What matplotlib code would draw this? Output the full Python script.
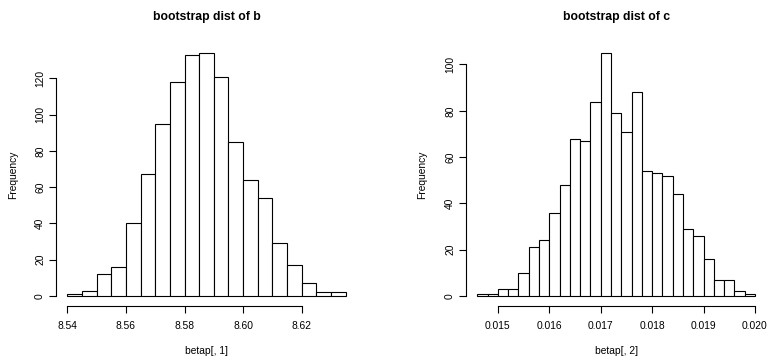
import numpy as np
import matplotlib
matplotlib.use("Agg")
import matplotlib.pyplot as plt

plt.rcParams['font.family'] = ['Liberation Sans', 'DejaVu Sans']

# bootstrap histogram of b
b_bin_start = 8.540
b_bin_width = 0.005
b_counts = [1, 3, 12, 16, 40, 67, 95, 118, 133, 134, 121, 85, 64, 54, 29, 17, 7, 2, 2]
b_xticks = [8.54, 8.56, 8.58, 8.60, 8.62]
b_yticks = [0, 20, 40, 60, 80, 100, 120]

# bootstrap histogram of c
c_bin_start = 0.0146
c_bin_width = 0.0002
c_counts = [1, 1, 3, 3, 10, 21, 24, 36, 48, 68, 67, 84, 105, 79, 71, 88,
            54, 53, 52, 44, 29, 26, 16, 7, 7, 2, 1]
c_xticks = [0.015, 0.016, 0.017, 0.018, 0.019, 0.020]
c_yticks = [0, 20, 40, 60, 80, 100]

W, H = 769, 356
fig = plt.figure(figsize=(W / 100, H / 100), dpi=100)
fs = 7.4


def r_hist(ax, start, width, counts, xticks, yticks, xfmt):
    counts = np.array(counts)
    lefts = start + width * np.arange(len(counts))
    ax.bar(lefts, counts, width=width, align='edge', facecolor='white',
           edgecolor='black', linewidth=0.8)
    lo, hi = lefts[0], lefts[-1] + width
    dx = (hi - lo) * 0.04
    ax.set_xlim(lo - dx, hi + dx)
    ymax = counts.max()
    ax.set_ylim(-ymax * 0.04, ymax * 1.04)
    for s in ['top', 'right']:
        ax.spines[s].set_visible(False)
    ax.spines['left'].set_bounds(yticks[0], yticks[-1])
    ax.spines['bottom'].set_bounds(xticks[0], xticks[-1])
    for s in ['left', 'bottom']:
        ax.spines[s].set_linewidth(0.8)
    ax.set_xticks(xticks)
    ax.set_xticklabels([xfmt % v for v in xticks])
    ax.set_yticks(yticks)
    ax.set_yticklabels([str(v) for v in yticks], rotation=90, va='center')
    ax.tick_params(length=5, width=0.8, labelsize=fs)
    ax.tick_params(axis='x', pad=6)
    ax.tick_params(axis='y', pad=3)


ax1 = fig.add_axes([56.2 / W, (H - 305.7) / H, 300.6 / W, 262.5 / H])
r_hist(ax1, b_bin_start, b_bin_width, b_counts, b_xticks, b_yticks, '%.2f')
ax2 = fig.add_axes([466.2 / W, (H - 305.7) / H, 299.9 / W, 262.5 / H])
r_hist(ax2, c_bin_start, c_bin_width, c_counts, c_xticks, c_yticks, '%.3f')

fig.text(206.5 / W, 1 - 17 / H, 'bootstrap dist of b', ha='center', va='center',
         fontsize=8.8, fontweight='bold')
fig.text(616.2 / W, 1 - 17 / H, 'bootstrap dist of c', ha='center', va='center',
         fontsize=8.8, fontweight='bold')
fig.text(12.7 / W, 1 - 174.5 / H, 'Frequency', rotation=90, ha='center',
         va='center', fontsize=fs)
fig.text(422.3 / W, 1 - 174.5 / H, 'Frequency', rotation=90, ha='center',
         va='center', fontsize=fs)
fig.text(206.5 / W, 1 - 351.5 / H, 'betap[, 1]', ha='center', va='center', fontsize=fs)
fig.text(616.2 / W, 1 - 351.5 / H, 'betap[, 2]', ha='center', va='center', fontsize=fs)

fig.savefig('out.png', dpi=100)
